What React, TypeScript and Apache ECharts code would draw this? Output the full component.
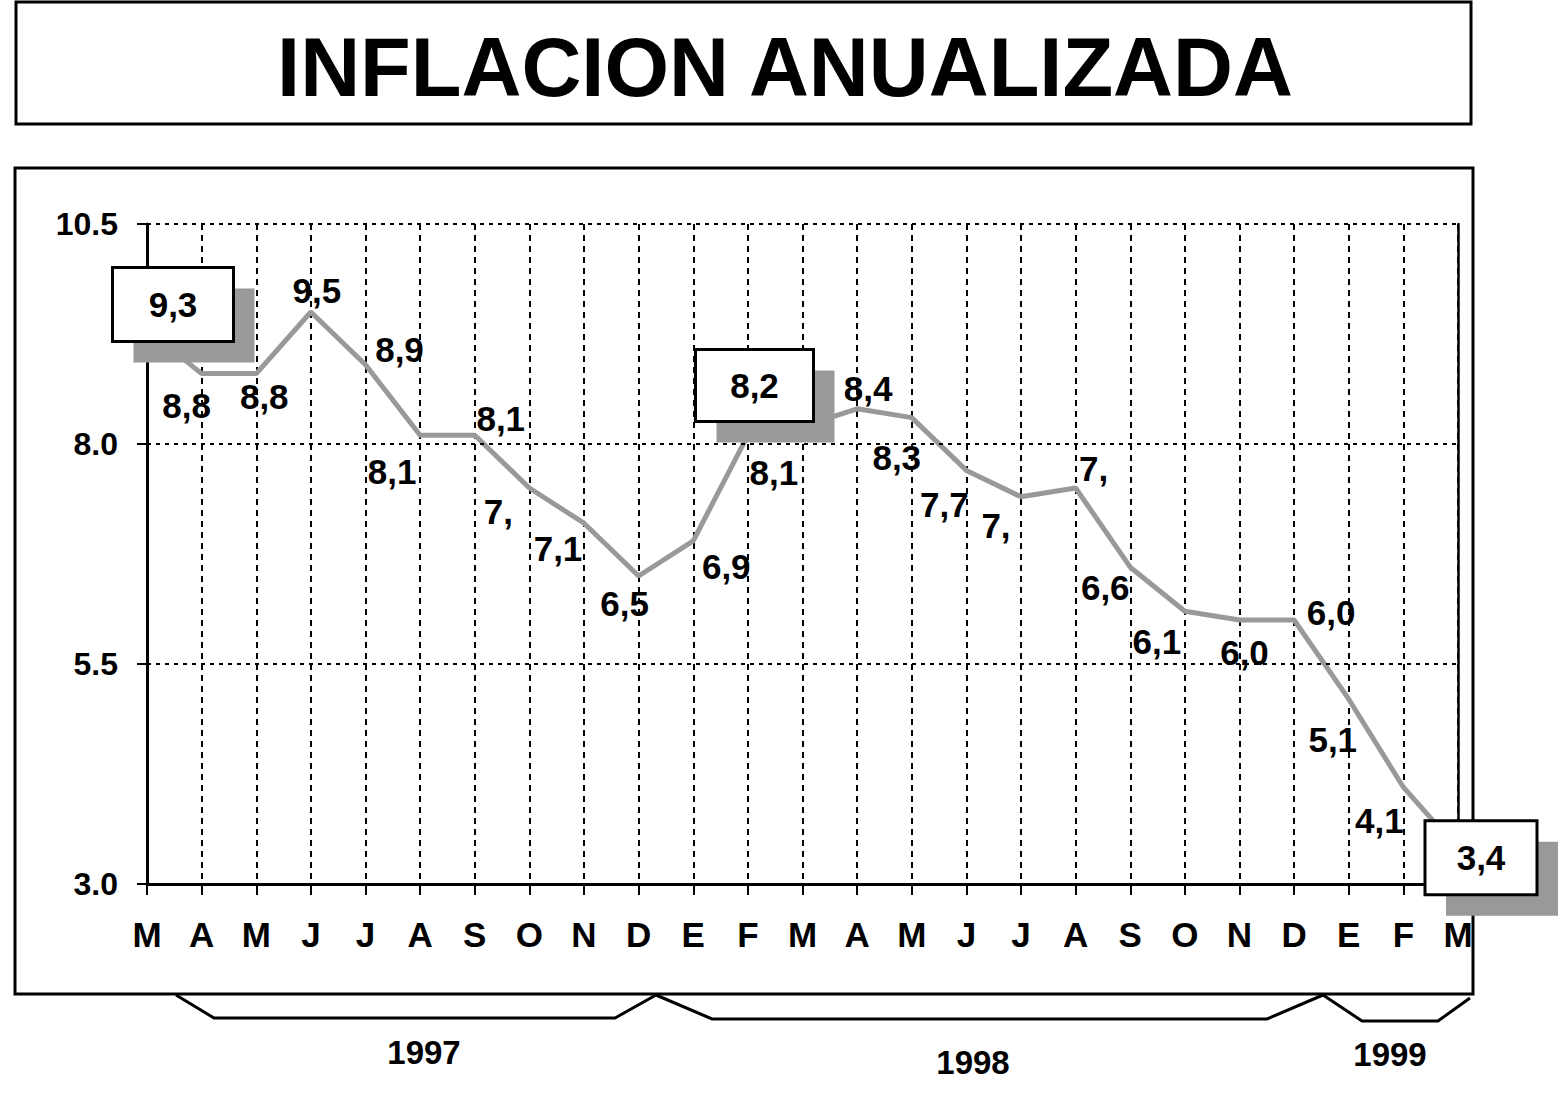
import React, { useEffect, useRef } from "react";
import * as echarts from "echarts";

const months = ["M", "A", "M", "J", "J", "A", "S", "O", "N", "D", "E", "F", "M", "A", "M", "J", "J", "A", "S", "O", "N", "D", "E", "F", "M"];
const inflation = [9.3, 8.8, 8.8, 9.5, 8.9, 8.1, 8.1, 7.5, 7.1, 6.5, 6.9, 8.1, 8.2, 8.4, 8.3, 7.7, 7.4, 7.5, 6.6, 6.1, 6.0, 6.0, 5.1, 4.1, 3.4];
const pointLabels = ["9,3", "8,8", "8,8", "9,5", "8,9", "8,1", "8,1", "7,", "7,1", "6,5", "6,9", "8,1", "8,2", "8,4", "8,3", "7,7", "7,", "7,", "6,6", "6,1", "6,0", "6,0", "5,1", "4,1", "3,4"];
const boxedIndices = [0, 12, 24];
const yTicks = [3.0, 5.5, 8.0, 10.5];
const gridValues = [5.5, 8.0, 10.5];
const years = ["1997", "1998", "1999"];

// label placement (pixel offsets of label centre from its point)
const labelOffsets: Record<number, [number, number]> = {
  1: [-15, 32], 2: [8, 23], 3: [6, -22], 4: [34, -15], 5: [-28, 36], 6: [26, -17],
  7: [-31, 23], 8: [-26, 25], 9: [-14, 27], 10: [33, 26], 11: [26, 37],
  13: [11, -20], 14: [-15, 40], 15: [-22, 34], 16: [-25, 29], 17: [18, -20],
  18: [-25, 20], 19: [-28, 30], 20: [5, 32], 21: [37, -8], 22: [-16, 40], 23: [-24, 33],
};
const boxOffsets: Record<number, [number, number]> = {
  0: [26, -25],
  12: [-48, -41],
  24: [23, 9],
};
const boxSizes: Record<number, [number, number]> = {
  0: [118, 71],
  12: [115, 69],
  24: [109, 71],
};
const shadowShift = 21;

const FONT = "'Liberation Sans', Arial, Helvetica, sans-serif";

export default function App() {
  const ref = useRef<HTMLDivElement>(null);

  useEffect(() => {
    if (!ref.current) return;
    const chart = echarts.init(ref.current, null, { renderer: "svg" });

    const mainData = inflation.map((v, i) => {
      if (boxedIndices.includes(i)) {
        return { value: v, label: { show: false } };
      }
      return { value: v, label: { show: true, offset: labelOffsets[i] || [0, -20] } };
    });

    const shadowData = inflation.map((v, i) => {
      if (!boxedIndices.includes(i)) return "-";
      const o = boxOffsets[i];
      const s = boxSizes[i];
      return {
        value: v,
        label: {
          show: true,
          position: "inside",
          offset: [o[0] + shadowShift, o[1] + shadowShift],
          formatter: " ",
          backgroundColor: "#999999",
          width: s[0] + 3,
          height: s[1] + 3,
          padding: 0,
        },
      };
    });

    const boxData = inflation.map((v, i) => {
      if (!boxedIndices.includes(i)) return "-";
      const o = boxOffsets[i];
      const s = boxSizes[i];
      return {
        value: v,
        label: {
          show: true,
          position: "inside",
          offset: o,
          formatter: pointLabels[i],
          backgroundColor: "#ffffff",
          borderColor: "#000000",
          borderWidth: 3,
          width: s[0],
          height: s[1],
          lineHeight: s[1],
          align: "center",
          verticalAlign: "middle",
          padding: 0,
          color: "#000",
          fontFamily: FONT,
          fontWeight: "bold",
          fontSize: 35,
        },
      };
    });

    const brackets = [
      [[176, 995], [214, 1018], [615, 1018], [656, 995]],
      [[656, 995], [712, 1019], [1267, 1019], [1323, 995]],
      [[1323, 995], [1362, 1021], [1438, 1021], [1470, 998]],
    ];
    const yearPos = [[424, 1052], [973, 1062], [1390, 1054]];

    chart.setOption({
      animation: false,
      backgroundColor: "#ffffff",
      grid: { left: 147, right: 101, top: 224, bottom: 216, containLabel: false },
      xAxis: {
        type: "category",
        data: months,
        boundaryGap: false,
        axisLine: { show: true, lineStyle: { color: "#000", width: 3 } },
        axisTick: { show: true, inside: false, length: 11, lineStyle: { color: "#000", width: 2 }, interval: 0 },
        axisLabel: {
          interval: 0,
          margin: 33,
          color: "#000",
          fontFamily: FONT,
          fontWeight: "bold",
          fontSize: 35,
        },
        splitLine: { show: true, interval: 0, lineStyle: { color: "#000", width: 2, type: [6, 5] } },
      },
      yAxis: [
        {
          type: "value",
          min: 3,
          max: 10.5,
          axisLine: { show: true, lineStyle: { color: "#000", width: 3 } },
          axisTick: { show: true, inside: false, length: 10, customValues: yTicks, lineStyle: { color: "#000", width: 2 } },
          axisLabel: {
            customValues: yTicks,
            margin: 29,
            color: "#000",
            fontFamily: FONT,
            fontWeight: "bold",
            fontSize: 32,
            padding: [8, 0, 0, 0],
            formatter: (v: number) => v.toFixed(1),
          },
          splitLine: { show: false },
        },
        {
          type: "value",
          min: 3,
          max: 10.5,
          position: "right",
          axisLine: { show: true, lineStyle: { color: "#000", width: 2.5 } },
          axisTick: { show: false },
          axisLabel: { show: false },
          splitLine: { show: false },
        },
      ],
      series: [
        {
          type: "line",
          z: 1,
          silent: true,
          data: months.map(() => "-"),
          symbol: "none",
          lineStyle: { opacity: 0 },
          markLine: {
            silent: true,
            symbol: "none",
            label: { show: false },
            lineStyle: { color: "#000", width: 2, type: [4, 5] },
            data: gridValues.map((v) => ({ yAxis: v })),
          },
        },
        {
          type: "line",
          z: 2,
          data: mainData,
          symbol: "circle",
          symbolSize: 1,
          showSymbol: true,
          itemStyle: { color: "rgba(0,0,0,0)" },
          lineStyle: { color: "#999999", width: 5 },
          label: {
            show: true,
            position: "inside",
            formatter: (p: any) => pointLabels[p.dataIndex],
            color: "#000",
            fontFamily: FONT,
            fontWeight: "bold",
            fontSize: 35,
          },
        },
        {
          type: "line",
          z: 3,
          data: shadowData,
          symbol: "circle",
          symbolSize: 1,
          showSymbol: true,
          itemStyle: { color: "rgba(0,0,0,0)" },
          lineStyle: { opacity: 0, width: 0 },
        },
        {
          type: "line",
          z: 4,
          data: boxData,
          symbol: "circle",
          symbolSize: 1,
          showSymbol: true,
          itemStyle: { color: "rgba(0,0,0,0)" },
          lineStyle: { opacity: 0, width: 0 },
        },
      ],
      graphic: [
        {
          type: "rect",
          shape: { x: 16, y: 2, width: 1455, height: 122 },
          style: { fill: "none", stroke: "#000", lineWidth: 3 },
        },
        {
          type: "text",
          x: 785,
          y: 67,
          style: {
            text: "INFLACION ANUALIZADA",
            fill: "#000",
            font: `bold 83px ${FONT}`,
            textAlign: "center",
            textVerticalAlign: "middle",
          },
        },
        {
          type: "rect",
          shape: { x: 15, y: 168, width: 1458, height: 826 },
          style: { fill: "none", stroke: "#000", lineWidth: 3 },
        },
        ...brackets.map((pts) => ({
          type: "polyline",
          shape: { points: pts },
          style: { fill: "none", stroke: "#000", lineWidth: 3 },
        })),
        ...years.map((y, i) => ({
          type: "text",
          x: yearPos[i][0],
          y: yearPos[i][1],
          style: {
            text: y,
            fill: "#000",
            font: `bold 33px ${FONT}`,
            textAlign: "center",
            textVerticalAlign: "middle",
          },
        })),
      ],
    });

    return () => chart.dispose();
  }, []);

  return (
    <div
      ref={ref}
      style={{ position: "fixed", left: 0, top: 0, width: 1559, height: 1100, background: "#fff" }}
    />
  );
}
